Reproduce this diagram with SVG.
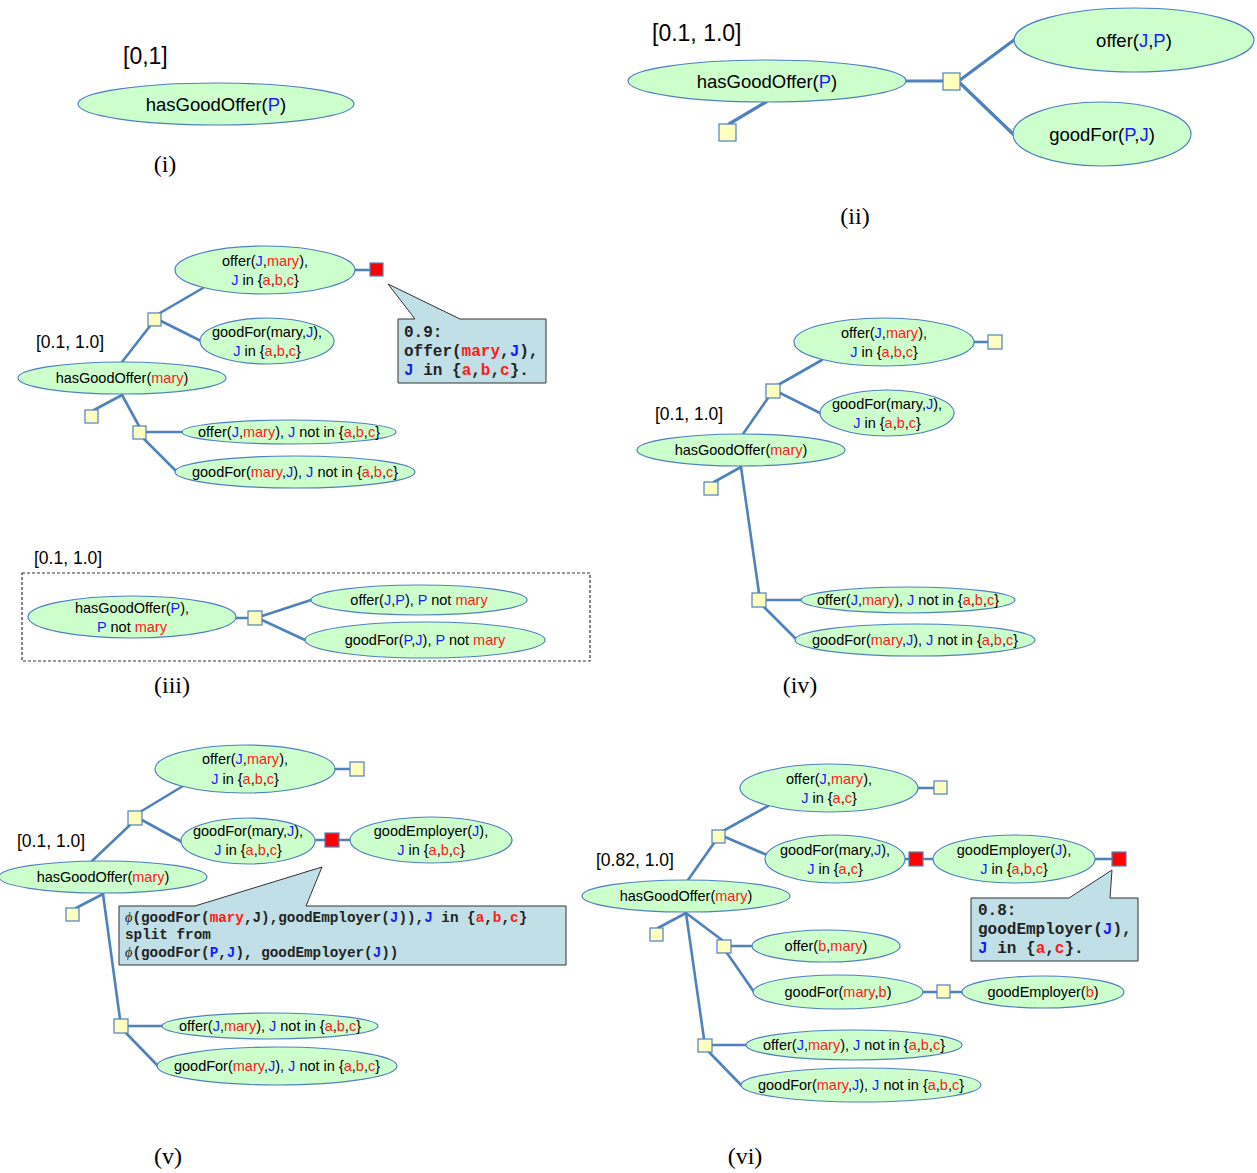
<svg xmlns="http://www.w3.org/2000/svg" width="1257" height="1173" viewBox="0 0 1257 1173">
<style>
.n{fill:#ccffcc;stroke:#4f81bd;stroke-width:1.2}
.t{font-family:"Liberation Sans",Arial,sans-serif;font-size:14.5px;text-anchor:middle;fill:#000}
.L{font-size:18.5px}
.b{fill:#1a1aff}
.r{fill:#ff1a1a}
.sq{fill:#ffffc0;stroke:#4f81bd;stroke-width:1.2}
.rs{fill:#ff0000;stroke:#4f81bd;stroke-width:1.2}
.c line{stroke:#4f81bd;stroke-width:2.6;stroke-linecap:round}
.c .w{stroke-width:3.2}
.lab{font-family:"Liberation Sans",Arial,sans-serif;font-size:17.5px;fill:#000}
.big{font-size:23px}
.cap{font-family:"Liberation Serif","Times New Roman",serif;font-size:24px;text-anchor:middle;fill:#000}
.co{fill:#c1dfe6;stroke:#333;stroke-width:1}
.m{font-family:"Liberation Mono","Courier New",monospace;font-weight:bold;font-size:16px;fill:#222}
.sm{font-size:14.3px}
.phi{font-family:"Liberation Serif",serif;font-style:italic;font-weight:normal}
.box{fill:none;stroke:#333;stroke-width:1.2;stroke-dasharray:3,2}
</style>

<!-- connectors -->
<g id="connectors" class="c">
  <!-- (ii) -->
  <line class="w" x1="906" y1="81" x2="943" y2="81"/>
  <line class="w" x1="960" y1="80" x2="1014" y2="40"/>
  <line class="w" x1="960" y1="83" x2="1013" y2="134"/>
  <line class="w" x1="766" y1="102" x2="729" y2="124"/>
  <!-- (iii) top -->
  <line x1="122" y1="362" x2="150" y2="326"/>
  <line x1="160" y1="313" x2="203" y2="288"/>
  <line x1="161" y1="321" x2="201" y2="341"/>
  <line x1="355" y1="270" x2="370" y2="270"/>
  <line x1="122" y1="395" x2="94" y2="410"/>
  <line x1="122" y1="395" x2="139" y2="426"/>
  <line x1="146" y1="432" x2="182" y2="432"/>
  <line x1="144" y1="439" x2="177" y2="472"/>
  <!-- (iii) bottom -->
  <line x1="236" y1="618" x2="248" y2="618"/>
  <line x1="262" y1="616" x2="311" y2="600"/>
  <line x1="262" y1="620" x2="305" y2="640"/>
  <!-- (iv) -->
  <line x1="743" y1="434" x2="768" y2="398"/>
  <line x1="778" y1="385" x2="822" y2="360"/>
  <line x1="780" y1="393" x2="820" y2="413"/>
  <line x1="973" y1="342" x2="988" y2="342"/>
  <line x1="741" y1="467" x2="714" y2="482"/>
  <line x1="741" y1="467" x2="759" y2="593"/>
  <line x1="766" y1="600" x2="801" y2="600"/>
  <line x1="764" y1="607" x2="797" y2="640"/>
  <!-- (v) -->
  <line x1="92" y1="861" x2="130" y2="825"/>
  <line x1="140" y1="812" x2="183" y2="786"/>
  <line x1="142" y1="820" x2="182" y2="842"/>
  <line x1="335" y1="769" x2="350" y2="769"/>
  <line x1="316" y1="840" x2="325" y2="840"/>
  <line x1="339" y1="840" x2="350" y2="840"/>
  <line x1="103" y1="894" x2="76" y2="908"/>
  <line x1="103" y1="894" x2="120" y2="1019"/>
  <line x1="128" y1="1026" x2="162" y2="1026"/>
  <line x1="126" y1="1033" x2="158" y2="1066"/>
  <!-- (vi) -->
  <line x1="688" y1="880" x2="714" y2="843"/>
  <line x1="723" y1="831" x2="768" y2="806"/>
  <line x1="725" y1="837" x2="767" y2="855"/>
  <line x1="918" y1="788" x2="934" y2="788"/>
  <line x1="905" y1="859" x2="909" y2="859"/>
  <line x1="923" y1="859" x2="933" y2="859"/>
  <line x1="1095" y1="859" x2="1112" y2="859"/>
  <line x1="686" y1="913" x2="658" y2="928"/>
  <line x1="686" y1="913" x2="722" y2="940"/>
  <line x1="686" y1="913" x2="704" y2="1039"/>
  <line x1="731" y1="946" x2="752" y2="946"/>
  <line x1="727" y1="953" x2="754" y2="992"/>
  <line x1="923" y1="992" x2="937" y2="992"/>
  <line x1="950" y1="992" x2="962" y2="992"/>
  <line x1="712" y1="1045" x2="746" y2="1045"/>
  <line x1="709" y1="1052" x2="741" y2="1085"/>
</g>

<!-- (i) -->
<text class="lab big" x="123" y="64">[0,1]</text>
<g id="i-hasGoodOffer"><ellipse class="n" cx="216" cy="104" rx="138" ry="21"/><text class="t L" x="216" y="111">hasGoodOffer(<tspan class="b">P</tspan>)</text></g>
<text class="cap" x="165" y="172">(i)</text>

<!-- (ii) -->
<text class="lab big" x="652" y="41">[0.1, 1.0]</text>
<g id="ii-hasGoodOffer"><ellipse class="n" cx="767" cy="81" rx="139" ry="21"/><text class="t L" x="767" y="88">hasGoodOffer(<tspan class="b">P</tspan>)</text></g>
<g id="ii-offer"><ellipse class="n" cx="1134" cy="40" rx="120" ry="32"/><text class="t L" x="1134" y="47">offer(<tspan class="b">J</tspan>,<tspan class="b">P</tspan>)</text></g>
<g id="ii-goodFor"><ellipse class="n" cx="1102" cy="134" rx="89" ry="32"/><text class="t L" x="1102" y="141">goodFor(<tspan class="b">P</tspan>,<tspan class="b">J</tspan>)</text></g>
<rect id="ii-f1" class="sq" x="943" y="73" width="17" height="17"/>
<rect id="ii-f0" class="sq" x="719" y="124" width="17" height="17"/>
<text class="cap" x="855" y="224">(ii)</text>

<!-- (iii) upper tree -->
<text class="lab" x="36" y="348">[0.1, 1.0]</text>
<g id="iii-hasGoodOffer"><ellipse class="n" cx="122" cy="378" rx="104" ry="16"/><text class="t" x="122" y="383">hasGoodOffer(<tspan class="r">mary</tspan>)</text></g>
<g id="iii-offer"><ellipse class="n" cx="265" cy="270" rx="90" ry="24"/><text class="t" x="265" y="266">offer(<tspan class="b">J</tspan>,<tspan class="r">mary</tspan>),</text><text class="t" x="265" y="285"><tspan class="b">J</tspan> in {<tspan class="r">a</tspan>,<tspan class="r">b</tspan>,<tspan class="r">c</tspan>}</text></g>
<g id="iii-goodFor"><ellipse class="n" cx="267" cy="341" rx="67" ry="23"/><text class="t" x="267" y="337">goodFor(mary,<tspan class="b">J</tspan>),</text><text class="t" x="267" y="356"><tspan class="b">J</tspan> in {<tspan class="r">a</tspan>,<tspan class="r">b</tspan>,<tspan class="r">c</tspan>}</text></g>
<rect id="iii-f-offer" class="rs" x="370" y="263" width="13" height="13"/>
<rect id="iii-f-and" class="sq" x="148" y="313" width="13" height="13"/>
<rect id="iii-f0" class="sq" x="85" y="410" width="13" height="13"/>
<rect id="iii-f-not" class="sq" x="133" y="426" width="13" height="13"/>
<g id="iii-offer-not"><ellipse class="n" cx="289" cy="432" rx="107" ry="12"/><text class="t" x="289" y="437">offer(<tspan class="b">J</tspan>,<tspan class="r">mary</tspan>), <tspan class="b">J</tspan> not in {<tspan class="r">a</tspan>,<tspan class="r">b</tspan>,<tspan class="r">c</tspan>}</text></g>
<g id="iii-goodFor-not"><ellipse class="n" cx="295" cy="472" rx="120" ry="16"/><text class="t" x="295" y="477">goodFor(<tspan class="r">mary</tspan>,<tspan class="b">J</tspan>), <tspan class="b">J</tspan> not in {<tspan class="r">a</tspan>,<tspan class="r">b</tspan>,<tspan class="r">c</tspan>}</text></g>
<g id="iii-callout">
  <path class="co" d="M398,319 H415 L388,284 L460,319 H546 V383 H398 Z"/>
  <text class="m" x="404" y="337">0.9:</text>
  <text class="m" x="404" y="356">offer(<tspan class="r">mary</tspan>,<tspan class="b">J</tspan>),</text>
  <text class="m" x="404" y="375"><tspan class="b">J</tspan> in {<tspan class="r">a</tspan>,<tspan class="r">b</tspan>,<tspan class="r">c</tspan>}.</text>
</g>

<!-- (iii) lower tree -->
<text class="lab" x="34" y="564">[0.1, 1.0]</text>
<rect class="box" x="22" y="573" width="568" height="88"/>
<g id="iii-hasGoodOffer-P"><ellipse class="n" cx="132" cy="617" rx="104" ry="21"/><text class="t" x="132" y="613">hasGoodOffer(<tspan class="b">P</tspan>),</text><text class="t" x="132" y="632"><tspan class="b">P</tspan> not <tspan class="r">mary</tspan></text></g>
<rect id="iii-f-P" class="sq" x="248" y="611" width="14" height="14"/>
<g id="iii-offer-P"><ellipse class="n" cx="419" cy="600" rx="108" ry="15"/><text class="t" x="419" y="605">offer(<tspan class="b">J</tspan>,<tspan class="b">P</tspan>), <tspan class="b">P</tspan> not <tspan class="r">mary</tspan></text></g>
<g id="iii-goodFor-P"><ellipse class="n" cx="425" cy="640" rx="120" ry="18"/><text class="t" x="425" y="645">goodFor(<tspan class="b">P</tspan>,<tspan class="b">J</tspan>), <tspan class="b">P</tspan> not <tspan class="r">mary</tspan></text></g>
<text class="cap" x="172" y="693">(iii)</text>

<!-- (iv) -->
<text class="lab" x="655" y="420">[0.1, 1.0]</text>
<g id="iv-hasGoodOffer"><ellipse class="n" cx="741" cy="450" rx="104" ry="16"/><text class="t" x="741" y="455">hasGoodOffer(<tspan class="r">mary</tspan>)</text></g>
<g id="iv-offer"><ellipse class="n" cx="884" cy="342" rx="90" ry="24"/><text class="t" x="884" y="338">offer(<tspan class="b">J</tspan>,<tspan class="r">mary</tspan>),</text><text class="t" x="884" y="357"><tspan class="b">J</tspan> in {<tspan class="r">a</tspan>,<tspan class="r">b</tspan>,<tspan class="r">c</tspan>}</text></g>
<rect id="iv-f-offer" class="sq" x="988" y="335" width="14" height="14"/>
<rect id="iv-f-and" class="sq" x="766" y="384" width="14" height="14"/>
<g id="iv-goodFor"><ellipse class="n" cx="887" cy="413" rx="67" ry="23"/><text class="t" x="887" y="409">goodFor(mary,<tspan class="b">J</tspan>),</text><text class="t" x="887" y="428"><tspan class="b">J</tspan> in {<tspan class="r">a</tspan>,<tspan class="r">b</tspan>,<tspan class="r">c</tspan>}</text></g>
<rect id="iv-f0" class="sq" x="704" y="482" width="14" height="13"/>
<rect id="iv-f-not" class="sq" x="752" y="593" width="14" height="14"/>
<g id="iv-offer-not"><ellipse class="n" cx="908" cy="600" rx="107" ry="13"/><text class="t" x="908" y="605">offer(<tspan class="b">J</tspan>,<tspan class="r">mary</tspan>), <tspan class="b">J</tspan> not in {<tspan class="r">a</tspan>,<tspan class="r">b</tspan>,<tspan class="r">c</tspan>}</text></g>
<g id="iv-goodFor-not"><ellipse class="n" cx="915" cy="640" rx="120" ry="16"/><text class="t" x="915" y="645">goodFor(<tspan class="r">mary</tspan>,<tspan class="b">J</tspan>), <tspan class="b">J</tspan> not in {<tspan class="r">a</tspan>,<tspan class="r">b</tspan>,<tspan class="r">c</tspan>}</text></g>
<text class="cap" x="800" y="693">(iv)</text>

<!-- (v) -->
<text class="lab" x="17" y="847">[0.1, 1.0]</text>
<g id="v-hasGoodOffer"><ellipse class="n" cx="103" cy="877" rx="104" ry="16"/><text class="t" x="103" y="882">hasGoodOffer(<tspan class="r">mary</tspan>)</text></g>
<g id="v-offer"><ellipse class="n" cx="245" cy="769" rx="90" ry="24"/><text class="t" x="245" y="764">offer(<tspan class="b">J</tspan>,<tspan class="r">mary</tspan>),</text><text class="t" x="245" y="784"><tspan class="b">J</tspan> in {<tspan class="r">a</tspan>,<tspan class="r">b</tspan>,<tspan class="r">c</tspan>}</text></g>
<rect id="v-f-offer" class="sq" x="350" y="762" width="14" height="14"/>
<rect id="v-f-and" class="sq" x="128" y="811" width="14" height="14"/>
<g id="v-goodFor"><ellipse class="n" cx="248" cy="841" rx="67" ry="23"/><text class="t" x="248" y="836">goodFor(mary,<tspan class="b">J</tspan>),</text><text class="t" x="248" y="855"><tspan class="b">J</tspan> in {<tspan class="r">a</tspan>,<tspan class="r">b</tspan>,<tspan class="r">c</tspan>}</text></g>
<rect id="v-f-phi" class="rs" x="325" y="833" width="14" height="14"/>
<g id="v-goodEmployer"><ellipse class="n" cx="431" cy="840" rx="81" ry="23"/><text class="t" x="431" y="836">goodEmployer(<tspan class="b">J</tspan>),</text><text class="t" x="431" y="855"><tspan class="b">J</tspan> in {<tspan class="r">a</tspan>,<tspan class="r">b</tspan>,<tspan class="r">c</tspan>}</text></g>
<rect id="v-f0" class="sq" x="66" y="908" width="13" height="13"/>
<rect id="v-f-not" class="sq" x="114" y="1019" width="14" height="14"/>
<g id="v-offer-not"><ellipse class="n" cx="270" cy="1026" rx="108" ry="13"/><text class="t" x="270" y="1031">offer(<tspan class="b">J</tspan>,<tspan class="r">mary</tspan>), <tspan class="b">J</tspan> not in {<tspan class="r">a</tspan>,<tspan class="r">b</tspan>,<tspan class="r">c</tspan>}</text></g>
<g id="v-goodFor-not"><ellipse class="n" cx="277" cy="1066" rx="120" ry="19"/><text class="t" x="277" y="1071">goodFor(<tspan class="r">mary</tspan>,<tspan class="b">J</tspan>), <tspan class="b">J</tspan> not in {<tspan class="r">a</tspan>,<tspan class="r">b</tspan>,<tspan class="r">c</tspan>}</text></g>
<g id="v-callout">
  <path class="co" d="M119,906 H195 L322,867 L306,906 H566 V965 H119 Z"/>
  <text class="m sm" x="125" y="922"><tspan class="phi">ϕ</tspan>(goodFor(<tspan class="r">mary</tspan>,J),goodEmployer(<tspan class="b">J</tspan>)),<tspan class="b">J</tspan> in {<tspan class="r">a</tspan>,<tspan class="r">b</tspan>,<tspan class="r">c</tspan>}</text>
  <text class="m sm" x="125" y="939">split from</text>
  <text class="m sm" x="125" y="957"><tspan class="phi">ϕ</tspan>(goodFor(<tspan class="b">P</tspan>,<tspan class="b">J</tspan>), goodEmployer(<tspan class="b">J</tspan>))</text>
</g>
<text class="cap" x="168" y="1164">(v)</text>

<!-- (vi) -->
<text class="lab" x="596" y="866">[0.82, 1.0]</text>
<g id="vi-hasGoodOffer"><ellipse class="n" cx="686" cy="896" rx="104" ry="16"/><text class="t" x="686" y="901">hasGoodOffer(<tspan class="r">mary</tspan>)</text></g>
<g id="vi-offer"><ellipse class="n" cx="829" cy="788" rx="89" ry="24"/><text class="t" x="829" y="784">offer(<tspan class="b">J</tspan>,<tspan class="r">mary</tspan>),</text><text class="t" x="829" y="803"><tspan class="b">J</tspan> in {<tspan class="r">a</tspan>,<tspan class="r">c</tspan>}</text></g>
<rect id="vi-f-offer" class="sq" x="934" y="781" width="13" height="13"/>
<rect id="vi-f-and" class="sq" x="712" y="830" width="13" height="13"/>
<g id="vi-goodFor"><ellipse class="n" cx="835" cy="859" rx="70" ry="24"/><text class="t" x="835" y="855">goodFor(mary,<tspan class="b">J</tspan>),</text><text class="t" x="835" y="874"><tspan class="b">J</tspan> in {<tspan class="r">a</tspan>,<tspan class="r">c</tspan>}</text></g>
<rect id="vi-f-phi" class="rs" x="909" y="852" width="14" height="14"/>
<g id="vi-goodEmployer"><ellipse class="n" cx="1014" cy="859" rx="81" ry="24"/><text class="t" x="1014" y="855">goodEmployer(<tspan class="b">J</tspan>),</text><text class="t" x="1014" y="874"><tspan class="b">J</tspan> in {<tspan class="r">a</tspan>,<tspan class="r">b</tspan>,<tspan class="r">c</tspan>}</text></g>
<rect id="vi-f-emp" class="rs" x="1112" y="852" width="14" height="14"/>
<g id="vi-callout">
  <path class="co" d="M971,898 H1069 L1112,870 L1110,898 H1138 V961 H971 Z"/>
  <text class="m" x="978" y="915">0.8:</text>
  <text class="m" x="978" y="934">goodEmployer(<tspan class="b">J</tspan>),</text>
  <text class="m" x="978" y="953"><tspan class="b">J</tspan> in {<tspan class="r">a</tspan>,<tspan class="r">c</tspan>}.</text>
</g>
<rect id="vi-f0" class="sq" x="650" y="928" width="13" height="13"/>
<rect id="vi-f-b" class="sq" x="717" y="940" width="14" height="13"/>
<g id="vi-offer-b"><ellipse class="n" cx="826" cy="946" rx="74" ry="16"/><text class="t" x="826" y="951">offer(<tspan class="r">b</tspan>,<tspan class="r">mary</tspan>)</text></g>
<g id="vi-goodFor-b"><ellipse class="n" cx="838" cy="992" rx="85" ry="17"/><text class="t" x="838" y="997">goodFor(<tspan class="r">mary</tspan>,<tspan class="r">b</tspan>)</text></g>
<rect id="vi-f-emp-b" class="sq" x="937" y="985" width="13" height="13"/>
<g id="vi-goodEmployer-b"><ellipse class="n" cx="1043" cy="992" rx="81" ry="16"/><text class="t" x="1043" y="997">goodEmployer(<tspan class="r">b</tspan>)</text></g>
<rect id="vi-f-not" class="sq" x="698" y="1039" width="14" height="13"/>
<g id="vi-offer-not"><ellipse class="n" cx="854" cy="1045" rx="108" ry="15"/><text class="t" x="854" y="1050">offer(<tspan class="b">J</tspan>,<tspan class="r">mary</tspan>), <tspan class="b">J</tspan> not in {<tspan class="r">a</tspan>,<tspan class="r">b</tspan>,<tspan class="r">c</tspan>}</text></g>
<g id="vi-goodFor-not"><ellipse class="n" cx="861" cy="1085" rx="120" ry="17"/><text class="t" x="861" y="1090">goodFor(<tspan class="r">mary</tspan>,<tspan class="b">J</tspan>), <tspan class="b">J</tspan> not in {<tspan class="r">a</tspan>,<tspan class="r">b</tspan>,<tspan class="r">c</tspan>}</text></g>
<text class="cap" x="745" y="1164">(vi)</text>
</svg>
